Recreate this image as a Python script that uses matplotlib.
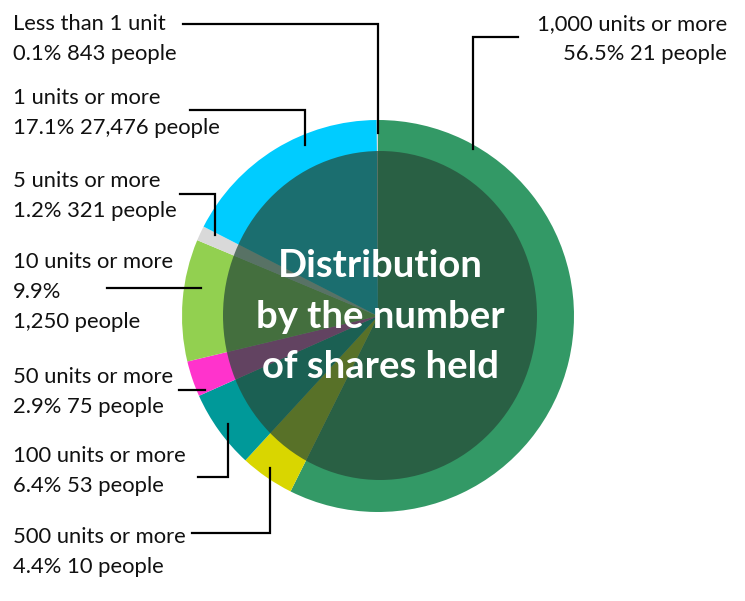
import matplotlib
matplotlib.use('Agg')
import matplotlib.pyplot as plt
from matplotlib.patches import Ellipse

# data, clockwise from 12 o'clock
labels = ['1,000 units or more', '500 units or more', '100 units or more',
          '50 units or more', '10 units or more', '5 units or more',
          '1 units or more', 'Less than 1 unit']
shares = [56.5, 4.4, 6.4, 2.9, 9.9, 1.2, 17.1, 0.1]
people = ['21', '10', '53', '75', '1,250', '321', '27,476', '843']
colors = ['#339966', '#D9D600', '#009999', '#FF33CC', '#92D050',
          '#D9D9D9', '#00CCFF', '#D9D9D9']
title_lines = ['Distribution', 'by the number', 'of shares held']

W, H = 745, 601


def Y(y):
  # pixel row (from top) -> axes y
  return H - y


# text placement: (x, first baseline, align), leader line path in pixels
layout = {
  '1,000 units or more': (727, 30, 'right', [(518, 37), (473, 37), (473, 149)]),
  '500 units or more':   (13, 543, 'left', [(192, 533), (270, 533), (270, 468)]),
  '100 units or more':   (13, 462, 'left', [(198, 477), (228, 477), (228, 424)]),
  '50 units or more':    (13, 383, 'left', [(179, 390), (205, 390)]),
  '10 units or more':    (13, 268, 'left', [(107, 288), (201, 288)]),
  '5 units or more':     (13, 187, 'left', [(180, 194), (215, 194), (215, 235)]),
  '1 units or more':     (13, 104, 'left', [(190, 110), (305, 110), (305, 145)]),
  'Less than 1 unit':    (13, 30, 'left', [(183, 24), (378, 24), (378, 133)]),
}

fig = plt.figure(figsize=(W / 100, H / 100), dpi=100)
ax = fig.add_axes([0, 0, 1, 1])

ax.pie(shares, colors=colors, startangle=90, counterclock=False,
       radius=196, center=(378, Y(316)),
       wedgeprops={'linewidth': 0}, frame=False)

# dark translucent disc over the inner part
ax.add_patch(Ellipse((380, Y(315.5)), 314, 329, facecolor='#264A38',
                     edgecolor='none', alpha=0.72, zorder=3))

ax.set_xlim(0, W)
ax.set_ylim(0, H)
ax.set_aspect('auto')
ax.axis('off')

font = 'Lato'
for lab, share, ppl in zip(labels, shares, people):
  x, base, ha, path = layout[lab]
  if lab == '10 units or more':
    lines = [lab, '%.1f%%' % share, ppl + ' people']
  else:
    lines = [lab, '%.1f%% %s people' % (share, ppl)]
  for i, line in enumerate(lines):
    ax.text(x, Y(base + i * 30), line, ha=ha, va='baseline',
            fontsize=15.8, family=font, color='#111111', zorder=5)
  xs = [p[0] for p in path]
  ys = [Y(p[1]) for p in path]
  ax.plot(xs, ys, color='black', lw=1.6, solid_joinstyle='miter', zorder=6)

for i, line in enumerate(title_lines):
  ax.text(380, Y(277 + i * 50.5), line, ha='center', va='baseline',
          fontsize=27.5, family=font, fontweight='bold', color='white', zorder=7)

plt.savefig('out.png', dpi=100)
